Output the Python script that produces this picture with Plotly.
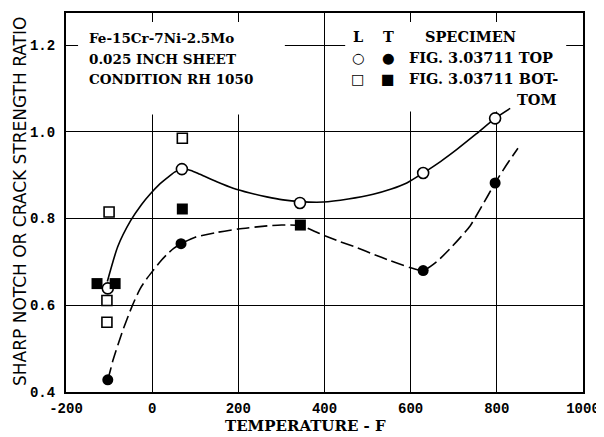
import plotly.graph_objects as go

# ---- data ----
l_top_temp = [-103, 69, 343, 629, 796]
l_top_val = [0.639, 0.914, 0.836, 0.905, 1.031]

t_top_temp = [-103, 67, 629, 796]
t_top_val = [0.428, 0.742, 0.680, 0.882]

l_bot_temp = [-100, 70, -105, -105]
l_bot_val = [0.815, 0.985, 0.611, 0.561]

t_bot_temp = [-128, -86, 70, 344]
t_bot_val = [0.650, 0.650, 0.822, 0.785]

# faired curves
l_curve_temp = [-104, -80, -50, -25, -5, 15, 34, 52, 69, 90, 111, 150, 188, 227, 266, 304, 343,
                397, 455, 513, 555, 591, 629, 670, 708, 752, 796, 831]
l_curve_val = [0.655, 0.735, 0.795, 0.832, 0.856, 0.877, 0.893, 0.907, 0.914, 0.911, 0.902, 0.885,
               0.870, 0.859, 0.850, 0.843, 0.839, 0.838, 0.845, 0.856, 0.868, 0.882, 0.905, 0.932,
               0.960, 0.995, 1.031, 1.054]

t_curve_temp = [-103, -97, -91, -70, -47, -28, -12, 2, 18, 34, 50, 67, 100, 150, 200, 267, 300, 344,
                397, 435, 475, 515, 552, 598, 629, 660, 691, 715, 738, 765, 796, 820, 849]
t_curve_val = [0.428, 0.450, 0.473, 0.537, 0.597, 0.638, 0.662, 0.680, 0.700, 0.717, 0.731, 0.742,
               0.757, 0.768, 0.776, 0.783, 0.785, 0.784, 0.762, 0.747, 0.733, 0.717, 0.703, 0.687,
               0.680, 0.700, 0.730, 0.756, 0.783, 0.828, 0.882, 0.920, 0.962]

x_ticks = [-200, 0, 200, 400, 600, 800, 1000]
y_ticks = [0.4, 0.6, 0.8, 1.0, 1.2]

title_lines = ["Fe-15Cr-7Ni-2.5Mo", "0.025 INCH SHEET", "CONDITION RH 1050"]

SERIF = "DejaVu Serif"
BOXFONT = dict(family=SERIF, size=13.5, color="black", weight="bold")
LEGFONT = dict(family=SERIF, size=14.5, color="black", weight="bold")
TICKFONT = dict(family="Liberation Mono", size=14, color="black", weight="bold")

fig = go.Figure()

fig.add_trace(go.Scatter(x=l_curve_temp, y=l_curve_val, mode="lines",
                         line=dict(color="black", width=1.6, shape="spline", smoothing=0.6),
                         showlegend=False, hoverinfo="skip"))
fig.add_trace(go.Scatter(x=t_curve_temp, y=t_curve_val, mode="lines",
                         line=dict(color="black", width=1.6, shape="spline", smoothing=0.6, dash="13px,5px"),
                         showlegend=False, hoverinfo="skip"))

fig.add_trace(go.Scatter(x=l_top_temp, y=l_top_val, mode="markers",
                         marker=dict(symbol="circle", size=11, color="white",
                                     line=dict(color="black", width=1.6)), showlegend=False))
fig.add_trace(go.Scatter(x=t_top_temp, y=t_top_val, mode="markers",
                         marker=dict(symbol="circle", size=11, color="black"), showlegend=False))
fig.add_trace(go.Scatter(x=l_bot_temp, y=l_bot_val, mode="markers",
                         marker=dict(symbol="square", size=10, color="white",
                                     line=dict(color="black", width=1.6)), showlegend=False))
fig.add_trace(go.Scatter(x=t_bot_temp, y=t_bot_val, mode="markers",
                         marker=dict(symbol="square", size=11, color="black"), showlegend=False))

# white boxes hiding the grid behind the text blocks
fig.add_shape(type="rect", xref="x", yref="y", x0=-172, x1=308, y0=1.04, y1=1.253,
              fillcolor="white", line=dict(width=0), layer="between")
fig.add_shape(type="rect", xref="x", yref="y", x0=448, x1=961, y0=1.047, y1=1.253,
              fillcolor="white", line=dict(width=0), layer="between")

# plot area position in the screenshot (page body has an 8px margin)
OFF = 8
L, R, T, B = 66, 583, 11, 392
W, H = R - L, B - T
FIG_W, FIG_H = 604 - OFF, 437 - OFF


def px(x):
    return (x - L) / W


def py(y):
    return (B - y) / H


for line, yy in zip(title_lines, [36, 57, 77]):
    fig.add_annotation(x=px(87), y=py(yy), xref="paper", yref="paper", text=line,
                       showarrow=False, xanchor="left", yanchor="middle", font=BOXFONT)

legend_items = [
    (358, 35, "L", "center"), (388, 35, "T", "center"), (423, 35, "SPECIMEN", "left"),
    (358, 56, "○", "center"), (388, 56, "●", "center"), (407, 56, "FIG. 3.03711 TOP", "left"),
    (358, 77, "□", "center"), (388, 77, "■", "center"), (407, 77, "FIG. 3.03711 BOT-", "left"),
    (558, 98, "TOM", "right"),
]
for x, y, txt, anc in legend_items:
    fig.add_annotation(x=px(x), y=py(y), xref="paper", yref="paper", text=txt,
                       showarrow=False, xanchor=anc, yanchor="middle", font=LEGFONT)

fig.add_annotation(x=px(305), y=py(426), xref="paper", yref="paper", text="TEMPERATURE - F",
                   showarrow=False, xanchor="center", yanchor="middle",
                   font=dict(family=SERIF, size=15, color="black", weight="bold"))
fig.add_annotation(x=px(20), y=py(201), xref="paper", yref="paper",
                   text="SHARP NOTCH OR CRACK STRENGTH RATIO", textangle=-90,
                   showarrow=False, xanchor="center", yanchor="middle",
                   font=dict(family="DejaVu Sans", size=17, color="black"))

axis_common = dict(showline=True, linecolor="black", linewidth=2, mirror=True,
                   showgrid=True, gridcolor="black", gridwidth=1.3,
                   zeroline=False, ticks="", tickfont=TICKFONT)

fig.update_xaxes(range=[-200, 1000], tickvals=x_ticks, ticktext=[str(v) for v in x_ticks],
                 ticklabelstandoff=2, **axis_common)
fig.update_yaxes(range=[0.4, 1.274], tickvals=y_ticks, ticktext=[f"{v:.1f}" for v in y_ticks],
                 ticklabelstandoff=6, **axis_common)

fig.update_layout(width=FIG_W, height=FIG_H,
                  margin=dict(l=L - OFF, r=604 - R, t=T - OFF, b=437 - B),
                  paper_bgcolor="white", plot_bgcolor="white", showlegend=False)

fig.write_html("out.html")
